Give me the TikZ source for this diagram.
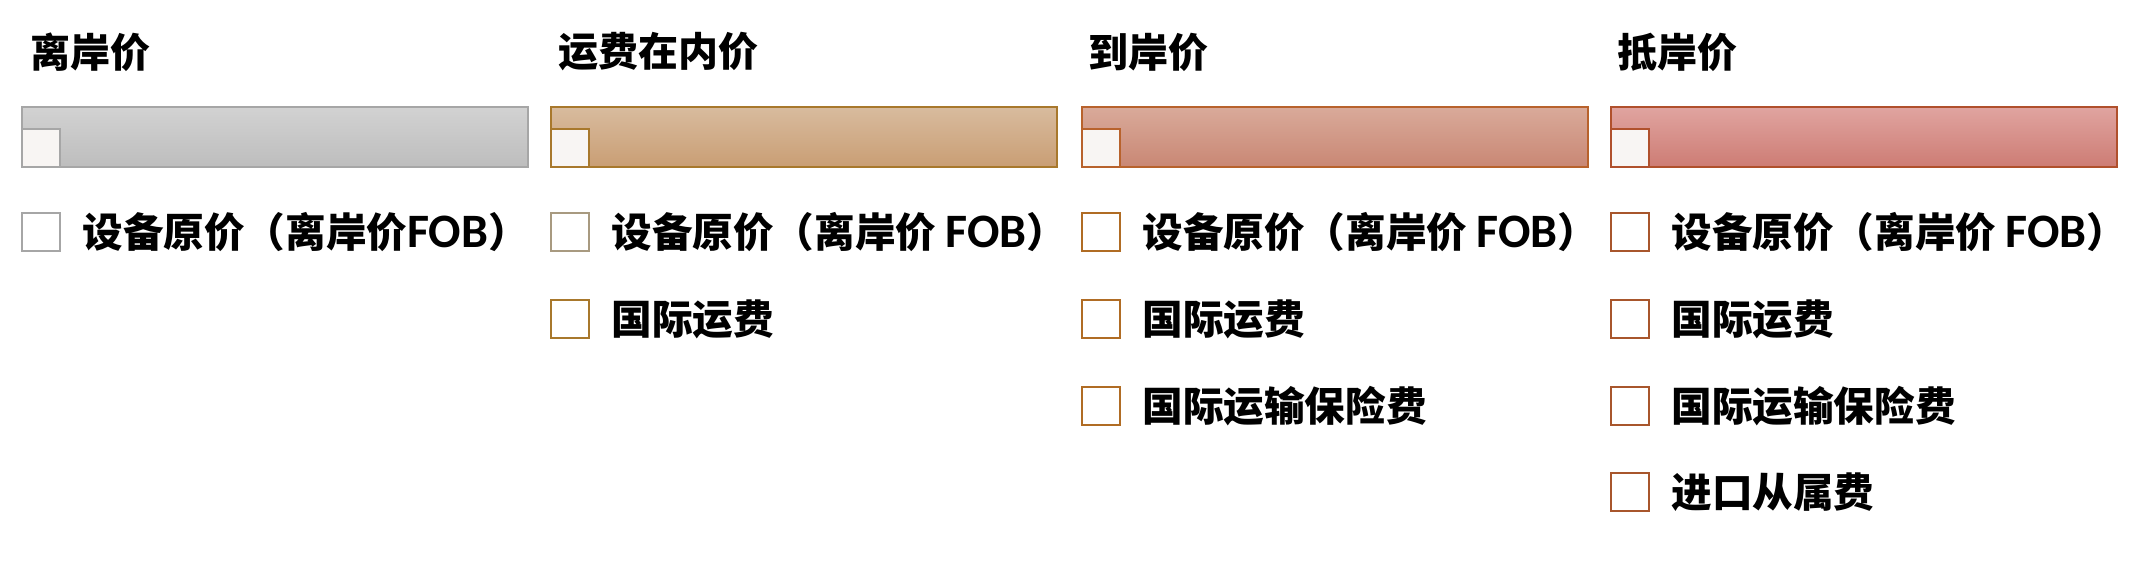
\documentclass[tikz,border=0pt]{standalone}
\usepackage{fontspec}
\newfontfamily\cjk{Noto Sans CJK SC}
\newfontfamily\lat{Carlito}
\definecolor{gBorder}{HTML}{A6A6A6}
\definecolor{gTop}{HTML}{D2D2D2}
\definecolor{gBot}{HTML}{BDBDBD}
\definecolor{tBorder}{HTML}{A8782C}
\definecolor{tTop}{HTML}{D8BB9E}
\definecolor{tBot}{HTML}{C99E74}
\definecolor{tBox}{HTML}{A89A80}
\definecolor{rBorder}{HTML}{B8622C}
\definecolor{rTop}{HTML}{D9AA9A}
\definecolor{rBot}{HTML}{C98774}
\definecolor{rBox}{HTML}{B06C24}
\definecolor{pBorder}{HTML}{B0502C}
\definecolor{pTop}{HTML}{E0A4A0}
\definecolor{pBot}{HTML}{CD7C74}
\definecolor{pBox}{HTML}{A8562C}
\definecolor{sqFill}{HTML}{F8F5F3}
\tikzset{
  title/.style={anchor=west, inner sep=0pt, font=\cjk\bfseries\fontsize{20pt}{24pt}\selectfont},
  item/.style={anchor=west, inner sep=0pt, font=\cjk\bfseries\fontsize{20.3pt}{24pt}\selectfont},
  bar/.style n args={3}{draw=#1, line width=1pt, top color=#2, bottom color=#3, minimum width=253pt, minimum height=30pt, inner sep=0pt, anchor=north west},
  barsq/.style={draw=#1, line width=1pt, fill=sqFill, minimum width=19pt, minimum height=19pt, inner sep=0pt, anchor=south west},
  chk/.style={draw=#1, line width=1pt, fill=white, minimum width=19pt, minimum height=19pt, inner sep=0pt, anchor=west}
}
\newcommand{\fob}{{\lat\bfseries\fontsize{24pt}{24pt}\selectfont FOB}}
\begin{document}
\begin{tikzpicture}[x=0.5pt,y=-0.5pt]
\useasboundingbox (0,0) rectangle (2156,580);
% column 1
\node[title] (t1) at (30,52) {离岸价};
\node[bar={gBorder}{gTop}{gBot}] (b1) at (21,106) {};
\node[barsq=gBorder] (s1) at (b1.south west) {};
\node[chk=gBorder] (c11) at (21,232) {};
\node[item] (i11) at (82,232) {设备原价（离岸价\fob）};
% column 2
\node[title] (t2) at (558,52) {运费在内价};
\node[bar={tBorder}{tTop}{tBot}] (b2) at (550,106) {};
\node[barsq=tBorder] (s2) at (b2.south west) {};
\node[chk=tBox] (c21) at (550,232) {};
\node[item] (i21) at (611,232) {设备原价（离岸价 \fob）};
\node[chk=tBorder] (c22) at (550,319) {};
\node[item] (i22) at (611,319) {国际运费};
% column 3
\node[title] (t3) at (1088,52) {到岸价};
\node[bar={rBorder}{rTop}{rBot}] (b3) at (1081,106) {};
\node[barsq=rBorder] (s3) at (b3.south west) {};
\node[chk=rBox] (c31) at (1081,232) {};
\node[item] (i31) at (1142,232) {设备原价（离岸价 \fob）};
\node[chk=rBox] (c32) at (1081,319) {};
\node[item] (i32) at (1142,319) {国际运费};
\node[chk=rBox] (c33) at (1081,406) {};
\node[item] (i33) at (1142,406) {国际运输保险费};
% column 4
\node[title] (t4) at (1617,52) {抵岸价};
\node[bar={pBorder}{pTop}{pBot}] (b4) at (1610,106) {};
\node[barsq=pBorder] (s4) at (b4.south west) {};
\node[chk=pBox] (c41) at (1610,232) {};
\node[item] (i41) at (1671,232) {设备原价（离岸价 \fob）};
\node[chk=pBox] (c42) at (1610,319) {};
\node[item] (i42) at (1671,319) {国际运费};
\node[chk=pBox] (c43) at (1610,406) {};
\node[item] (i43) at (1671,406) {国际运输保险费};
\node[chk=pBox] (c44) at (1610,492) {};
\node[item] (i44) at (1671,492) {进口从属费};
\end{tikzpicture}
\end{document}
